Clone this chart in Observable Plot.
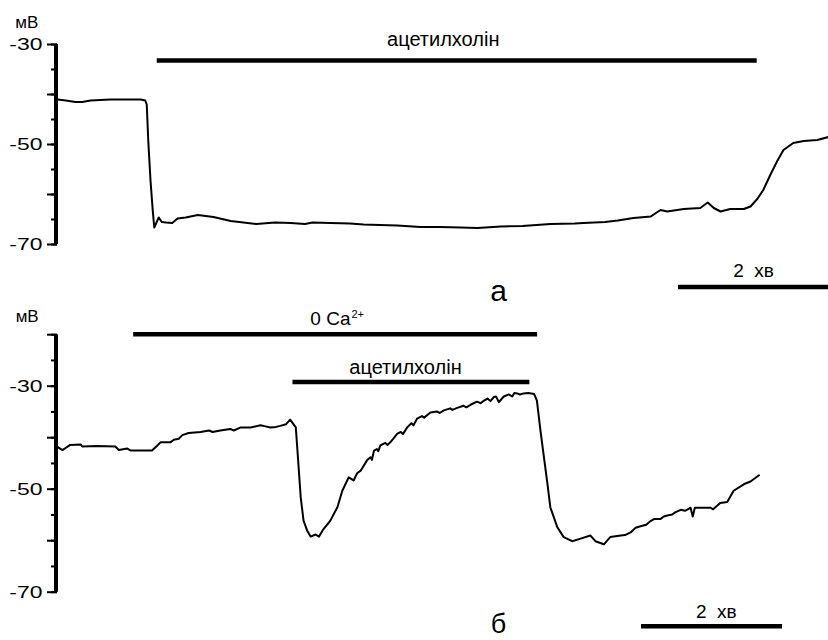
<!DOCTYPE html>
<html><head><meta charset="utf-8">
<script src="https://cdn.jsdelivr.net/npm/d3@7"></script>
<script src="https://cdn.jsdelivr.net/npm/@observablehq/plot@0.6"></script>
<style>body{margin:0;background:#fff} svg{display:block}</style>
</head><body><div id="chart"></div>
<script>
// ---- Panel а: membrane potential (mV) vs time (min) ----
const timeA = [0, 0.11, 0.24, 0.33, 0.44, 0.57, 0.71, 0.91, 1.11, 1.17,
  1.19, 1.21, 1.24, 1.27, 1.29, 1.32, 1.35, 1.39, 1.45, 1.53,
  1.6, 1.71, 1.87, 2.08, 2.31, 2.65, 2.9, 3.11, 3.3, 3.4,
  3.64, 3.9, 4.08, 4.3, 4.53, 4.84, 5.1, 5.37, 5.6, 5.91,
  6.2, 6.57, 6.9, 7.01, 7.3, 7.47, 7.68, 7.91, 8.04, 8.13,
  8.35, 8.57, 8.67, 8.75, 8.84, 8.97, 9.15, 9.24, 9.33, 9.41,
  9.51, 9.6, 9.68, 9.81, 9.95, 10.13, 10.28];
const mvA = [-41.0, -41.2, -41.5, -41.5, -41.2, -41.1, -41.0, -41.0, -41.0, -41.2,
  -42.0, -49.2, -57.2, -63.2, -66.6, -65.6, -64.6, -65.5, -65.6, -65.7,
  -64.8, -64.6, -64.1, -64.5, -65.3, -65.9, -65.6, -65.7, -65.9, -65.6,
  -65.7, -65.8, -66.0, -66.1, -66.2, -66.5, -66.5, -66.6, -66.7, -66.4,
  -66.3, -65.9, -65.8, -65.7, -65.5, -65.2, -64.7, -64.4, -63.1, -63.4,
  -62.9, -62.7, -61.6, -62.7, -63.4, -62.9, -62.9, -62.4, -60.9, -59.1,
  -55.9, -53.2, -51.1, -49.7, -49.3, -49.1, -48.5];

// ---- Panel б ----
const timeB = [0, 0.07, 0.18, 0.33, 0.35, 0.56, 0.82, 0.87, 0.99, 1.04,
  1.34, 1.41, 1.46, 1.6, 1.65, 1.72, 1.77, 1.86, 2.03, 2.15,
  2.2, 2.31, 2.45, 2.5, 2.6, 2.74, 2.88, 2.95, 3.02, 3.1,
  3.16, 3.24, 3.3, 3.38, 3.4, 3.45, 3.49, 3.54, 3.59, 3.66,
  3.71, 3.76, 3.87, 3.97, 4.04, 4.13, 4.2, 4.25, 4.3, 4.39,
  4.44, 4.46, 4.49, 4.53, 4.55, 4.58, 4.65, 4.68, 4.72, 4.77,
  4.82, 4.87, 4.9, 4.96, 5.02, 5.05, 5.1, 5.17, 5.2, 5.29,
  5.38, 5.42, 5.48, 5.57, 5.6, 5.67, 5.76, 5.8, 5.86, 5.95,
  6.0, 6.05, 6.1, 6.14, 6.19, 6.22, 6.26, 6.33, 6.4, 6.45,
  6.48, 6.52, 6.56, 6.61, 6.68, 6.76, 6.8, 6.85, 6.9, 6.95,
  6.99, 7.09, 7.18, 7.3, 7.42, 7.56, 7.63, 7.75, 7.84, 7.99,
  8.05, 8.13, 8.2, 8.27, 8.35, 8.4, 8.46, 8.55, 8.6, 8.65,
  8.72, 8.76, 8.84, 8.9, 8.94, 8.98, 9.01, 9.04, 9.12, 9.26,
  9.3, 9.4, 9.5, 9.59, 9.74, 9.83, 9.95];
const mvB = [-41.8, -42.4, -41.4, -41.3, -41.7, -41.6, -41.7, -42.4, -42.1, -42.5,
  -42.5, -41.6, -40.9, -40.9, -40.4, -40.2, -39.5, -39.1, -38.9, -38.6,
  -38.9, -38.6, -38.3, -38.6, -38.0, -38.0, -37.6, -37.8, -38.0, -37.9,
  -37.7, -37.4, -36.5, -38.0, -41.8, -51.6, -56.1, -58.0, -59.2, -58.8,
  -59.2, -58.0, -56.1, -53.5, -50.3, -47.7, -48.3, -46.9, -46.4, -44.4,
  -43.8, -44.3, -42.5, -42.2, -42.6, -41.5, -41.0, -41.4, -40.9, -40.1,
  -39.2, -38.9, -39.3, -38.0, -37.2, -37.6, -36.3, -35.8, -36.1, -35.1,
  -34.9, -35.2, -34.7, -34.3, -34.6, -34.2, -33.8, -34.1, -33.6, -33.0,
  -33.3, -32.8, -32.4, -32.9, -32.1, -32.0, -33.1, -32.0, -31.6, -32.0,
  -31.3, -31.4, -31.6, -31.4, -31.3, -31.5, -32.8, -38.6, -43.8, -49.0,
  -53.5, -57.4, -59.3, -60.1, -59.6, -59.0, -60.1, -60.7, -59.3, -59.0,
  -58.9, -58.4, -57.5, -57.2, -56.9, -56.3, -55.8, -55.8, -55.3, -55.1,
  -54.9, -54.5, -54.0, -54.2, -53.9, -53.6, -55.3, -53.6, -53.6, -53.6,
  -53.9, -52.7, -52.5, -50.3, -49.0, -48.5, -47.3];

// Application periods (min)
const drugA = ["ацетилхолін"];
const drugStartA = [1.33];
const drugEndA = [9.33];
const drugB = ["0 Ca", "ацетилхолін"];
const drugStartB = [1.08, 3.34];
const drugEndB = [6.81, 6.70];

// Tick labels
const tickLabelsA = [-30, -50, -70];
const tickLabelsB = [-30, -50, -70];
const scaleBarMin = 2;

const font = "'Liberation Sans', Arial, Helvetica, sans-serif";
const baseStyle = {fontFamily: font, background: "#fff", color: "#000", overflow: "visible"};

function yAxisMarks(lo, hi, labels) {
  return [
    Plot.ruleX([0], {y1: lo, y2: hi, strokeWidth: 4, dx: -1.5}),
    Plot.axisY({ticks: d3.range(lo, hi + 1, 5), tickSize: 6, strokeWidth: 2, label: null, tickFormat: () => ""}),
    Plot.axisY({ticks: d3.range(lo, hi + 1, 10), tickSize: 10, tickPadding: 5, strokeWidth: 2, label: null,
      fontSize: 17, tickFormat: d => labels.includes(d) ? String(d) : ""})
  ];
}

const lineA = timeA.map((t, i) => ({t, v: mvA[i]}));
const barsA = drugA.map((name, i) => ({name, start: drugStartA[i], end: drugEndA[i]}));

const plotA = Plot.plot({
  width: 828, height: 305,
  marginLeft: 57, marginRight: 0, marginTop: 44, marginBottom: 61,
  x: {domain: [0, 10.28], axis: null},
  y: {domain: [-70, -30], label: null},
  style: baseStyle,
  marks: [
    ...yAxisMarks(-70, -30, tickLabelsA),
    Plot.line(lineA, {x: "t", y: "v", strokeWidth: 2, strokeLinejoin: "round"}),
    Plot.ruleY(barsA, {x1: "start", x2: "end", y: -33.2, strokeWidth: 4.5}),
    Plot.text(barsA, {x: d => (d.start + d.end) / 2, dx: -14, y: -30.3, text: "name", lineAnchor: "bottom", fontSize: 20}),
    Plot.ruleY([scaleBarMin], {x1: 10.28 - scaleBarMin, x2: 10.28, y: -78.5, strokeWidth: 4.5}),
    Plot.text([scaleBarMin], {x: 10.28 - scaleBarMin / 2, y: -76.5, text: d => `${d}  хв`, lineAnchor: "bottom", fontSize: 19}),
    Plot.text(["а"], {x: 5.88, y: -81.3, text: d => d, lineAnchor: "bottom", fontSize: 30}),
    Plot.text(["мВ"], {x: -0.41, y: -26.6, text: d => d, lineAnchor: "bottom", fontSize: 17, ariaLabel: "stretch"})
  ]
});

const lineB = timeB.map((t, i) => ({t, v: mvB[i]}));
const barsB = drugB.map((name, i) => ({name, start: drugStartB[i], end: drugEndB[i]}));
const plotB = Plot.plot({
  width: 828, height: 335,
  marginLeft: 57, marginRight: 0, marginTop: 29.2, marginBottom: 48.3,
  x: {domain: [0, 10.936], axis: null},
  y: {domain: [-70, -20], label: null},
  style: baseStyle,
  marks: [
    ...yAxisMarks(-70, -20, tickLabelsB),
    Plot.line(lineB, {x: "t", y: "v", strokeWidth: 2, strokeLinejoin: "round"}),
    Plot.ruleY(barsB, {x1: "start", x2: "end", y: (d, i) => i === 0 ? -19.9 : -29.2, strokeWidth: 4.5}),
    Plot.text(barsB.slice(0, 1), {x: 4.156, y: -18.2, text: "name", textAnchor: "end", lineAnchor: "bottom", fontSize: 19}),
    Plot.text(["2+"], {x: 4.17, y: -16.7, text: d => d, textAnchor: "start", lineAnchor: "bottom", fontSize: 11}),
    Plot.text(barsB.slice(1), {x: 4.936, y: -27.7, text: "name", lineAnchor: "bottom", fontSize: 20}),
    Plot.ruleY([scaleBarMin], {x1: 8.284, x2: 8.284 + scaleBarMin, y: -76.6, strokeWidth: 4.5}),
    Plot.text([scaleBarMin], {x: 9.344, y: -75.0, text: d => `${d}  хв`, lineAnchor: "bottom", fontSize: 19}),
    Plot.text(["б"], {x: 6.255, y: -77.9, text: d => d, lineAnchor: "bottom", fontSize: 27}),
    Plot.text(["мВ"], {x: -0.43, y: -17.6, text: d => d, lineAnchor: "bottom", fontSize: 17, ariaLabel: "stretch"})
  ]
});

document.getElementById("chart").append(plotA, plotB);

// Widen the axis-label glyphs horizontally (as in the reference), keeping their anchor fixed.
function stretch(svg, selector, k, anchor) {
  const ns = "http://www.w3.org/2000/svg";
  svg.querySelectorAll(selector).forEach(t => {
    if (!t.textContent) return;
    const r = t.getBoundingClientRect();
    const ax = anchor === "end" ? r.right : (r.left + r.right) / 2;
    const p = svg.createSVGPoint();
    p.x = ax; p.y = r.top;
    const parent = t.parentNode;
    const lp = p.matrixTransform(parent.getScreenCTM().inverse());
    const g = document.createElementNS(ns, "g");
    g.setAttribute("transform", `translate(${lp.x},0) scale(${k},1) translate(${-lp.x},0)`);
    parent.insertBefore(g, t);
    g.appendChild(t);
  });
}
for (const svg of [plotA, plotB]) {
  stretch(svg, 'g[aria-label="y-axis tick label"] text', 1.35, "end");
  stretch(svg, 'g[aria-label="stretch"] text', 1.35, "middle");
}
</script>
</body></html>
